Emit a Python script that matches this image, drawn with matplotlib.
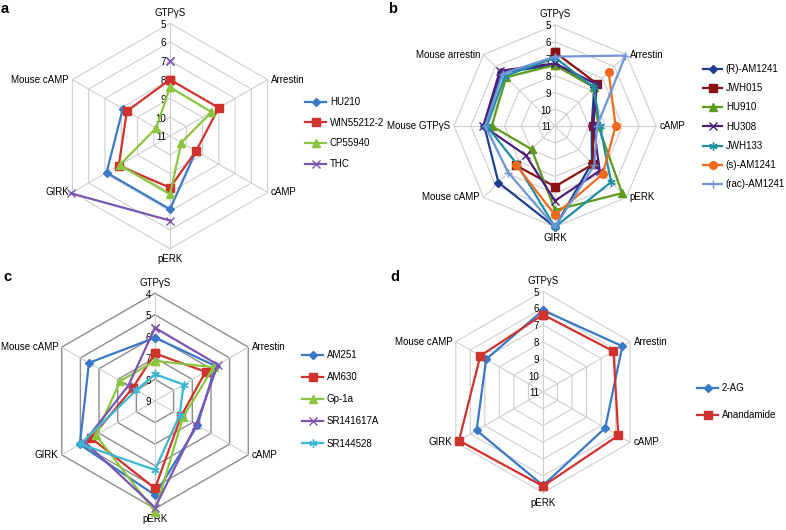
import numpy as np
import matplotlib
matplotlib.use('Agg')
import matplotlib.pyplot as plt

plt.rcParams['font.family'] = ['Liberation Sans', 'DejaVu Sans']
nan = np.nan

# ---------------- data ----------------
cats_a = ['GTPγS', 'Arrestin', 'cAMP', 'pERK', 'GIRK', 'Mouse cAMP']
a_names = ['HU210', 'WIN55212-2', 'CP55940', 'THC']
a_HU210 = [nan, nan, 9.4, 7.1, 7.1, 8.1]
a_WIN = [8.0, 8.0, 9.4, 8.25, 7.85, 8.35]
a_CP = [8.4, 8.45, 10.3, 7.9, 7.9, 10.15]
a_THC = [7.0, nan, nan, 6.5, 4.9, nan]

cats_b = ['GTPγS', 'Arrestin', 'cAMP', 'pERK', 'GIRK', 'Mouse cAMP',
          'Mouse GTPγS', 'Mouse arrestin']
b_names = ['(R)-AM1241', 'JWH015', 'HU910', 'HU308', 'JWH133',
           '(s)-AM1241', '(rac)-AM1241']
b_R = [7.38, 7.7, 8.82, 7.9, 5.0, 6.25, 6.8, 6.5]
b_JWH015 = [6.62, 7.46, 8.75, 7.8, 7.4, 7.7, nan, nan]
b_HU910 = [7.38, 7.75, 8.43, 5.36, 6.0, 9.04, 7.24, 6.9]
b_HU308 = [7.28, 7.5, 8.72, 7.24, 6.56, 8.54, 6.74, 6.37]
b_JWH133 = [6.94, 7.75, 8.33, 6.29, 5.0, 7.8, 6.94, 6.8]
b_S = [nan, 6.49, 7.4, 6.98, 5.71, 7.73, nan, nan]
b_rac = [6.88, 5.08, 8.5, 7.7, 5.0, 7.08, 6.85, 6.6]

cats_c = ['GTPγS', 'Arrestin', 'cAMP', 'pERK', 'GIRK', 'Mouse cAMP']
c_names = ['AM251', 'AM630', 'Gp-1a', 'SR141617A', 'SR144528']
c_AM251 = [6.06, 5.75, 6.73, 4.63, 4.97, 5.46]
c_AM630 = [6.79, 6.29, 7.6, 4.94, 5.57, 7.8]
c_Gp1a = [7.14, 5.86, 7.5, 3.86, 5.83, 7.14]
c_SR141617A = [5.6, 5.63, 6.8, 4.05, 5.22, 7.57]
c_SR144528 = [7.76, 7.47, 7.68, 5.8, 5.0, 8.0]

cats_d = ['GTPγS', 'Arrestin', 'cAMP', 'pERK', 'GIRK', 'Mouse cAMP']
d_names = ['2-AG', 'Anandamide']
d_2AG = [6.13, 5.54, 6.72, 5.43, 6.43, 7.09]
d_AEA = [6.39, 6.15, 5.82, 5.39, 5.22, 6.69]

# ---------------- styles ----------------
BLUE = '#3A78C8'
RED = '#D0322E'
GREEN = '#8CC63E'
PURPLE = '#7B55B0'
CYAN = '#3CB8D2'
AST = (6, 2, 0)

W, H = 786, 530
fig = plt.figure(figsize=(W / 100, H / 100), dpi=100)
FS = 7


def make_ax(cx, cy, rad):
    return fig.add_axes([(cx - rad) / W, (H - cy - rad) / H, 2 * rad / W, 2 * rad / H],
                        projection='polar')


def radar(ax, cats, rout, rcen, ring_color, ring_lw, spoke_color):
    n = len(cats)
    th = np.arange(n) * 2 * np.pi / n
    ax.set_theta_zero_location('N')
    ax.set_theta_direction(-1)
    ax.set_ylim(rcen, rout)
    ax.grid(False)
    ax.set_xticks([])
    ax.set_yticks([])
    ax.spines['polar'].set_visible(False)
    ax.patch.set_alpha(0)
    thc = np.append(th, th[0])
    for v in range(rout, rcen):
        ax.plot(thc, [v] * (n + 1), color=ring_color, lw=ring_lw, zorder=1, clip_on=False)
    for t in th:
        ax.plot([t, t], [rcen, rout], color=spoke_color, lw=0.8, zorder=1, clip_on=False)
    for v in range(rout, rcen + 1):
        ax.annotate(str(v), xy=(0, v), xytext=(-3, -1), textcoords='offset points',
                    ha='right', va='center', fontsize=FS, zorder=2)
    for t, c in zip(th, cats):
        s, co = np.sin(t), np.cos(t)
        if s > 0.1:
            ha = 'left'
        elif s < -0.1:
            ha = 'right'
        else:
            ha = 'center'
        if abs(s) > 0.1:
            va = 'center'
            off = (2.5 * np.sign(s), 0)
        else:
            va = 'bottom' if co > 0 else 'top'
            off = (0, 4 * np.sign(co))
        ax.annotate(c, xy=(t, rout), xytext=off, textcoords='offset points',
                    ha=ha, va=va, fontsize=FS, annotation_clip=False)
    return thc


def series(ax, thc, vals, color, marker, ms, label, lw=1.6, mew=1.0):
    v = np.append(vals, vals[0])
    ln, = ax.plot(thc, v, color=color, lw=lw, marker=marker, ms=ms, mew=mew,
                  label=label, clip_on=False, zorder=3)
    return ln


def legend(ax, handles, x, y, spacing, hl=2.2):
    ax.legend(handles=handles, loc='upper left', bbox_to_anchor=(x / W, 1 - y / H),
              bbox_transform=fig.transFigure, frameon=False, fontsize=FS,
              handlelength=hl, handletextpad=0.35, labelspacing=spacing,
              borderpad=0, borderaxespad=0, numpoints=1)


# ---------------- panel a ----------------
ax = make_ax(170, 136, 112.7)
thc = radar(ax, cats_a, 5, 11, '#CFCFCF', 0.8, '#CFCFCF')
h = [series(ax, thc, a_HU210, BLUE, 'D', 4.5, a_names[0]),
     series(ax, thc, a_WIN, RED, 's', 5.5, a_names[1]),
     series(ax, thc, a_CP, GREEN, '^', 5.5, a_names[2]),
     series(ax, thc, a_THC, PURPLE, 'x', 6, a_names[3])]
legend(ax, h, 305, 97, 1.1)

# ---------------- panel b ----------------
ax = make_ax(555, 126, 101)
thc = radar(ax, cats_b, 5, 11, '#CFCFCF', 0.8, '#CFCFCF')
h = [series(ax, thc, b_R, '#1F3F8F', 'D', 4.5, b_names[0]),
     series(ax, thc, b_JWH015, '#8B1212', 's', 5.5, b_names[1]),
     series(ax, thc, b_HU910, '#5E9A1E', '^', 5.5, b_names[2]),
     series(ax, thc, b_HU308, '#4B1F7A', 'x', 5.5, b_names[3]),
     series(ax, thc, b_JWH133, '#1D8FA5', AST, 6, b_names[4]),
     series(ax, thc, b_S, '#F26B1D', 'o', 5.5, b_names[5]),
     series(ax, thc, b_rac, '#6F95D6', '+', 6, b_names[6])]
legend(ax, h, 703, 64, 0.95, hl=2.0)

# ---------------- panel c ----------------
ax = make_ax(155, 401, 107.7)
thc = radar(ax, cats_c, 4, 9, '#8C8C8C', 1.0, '#CFCFCF')
h = [series(ax, thc, c_AM251, BLUE, 'D', 4.5, c_names[0]),
     series(ax, thc, c_AM630, RED, 's', 5.5, c_names[1]),
     series(ax, thc, c_Gp1a, GREEN, '^', 5.5, c_names[2]),
     series(ax, thc, c_SR141617A, PURPLE, 'x', 6, c_names[3]),
     series(ax, thc, c_SR144528, CYAN, AST, 6, c_names[4])]
legend(ax, h, 302, 350, 1.25)

# ---------------- panel d ----------------
ax = make_ax(543, 392, 100.7)
thc = radar(ax, cats_d, 5, 11, '#CFCFCF', 0.8, '#CFCFCF')
h = [series(ax, thc, d_2AG, BLUE, 'D', 4.5, d_names[0]),
     series(ax, thc, d_AEA, RED, 's', 6, d_names[1])]
legend(ax, h, 697, 383, 1.75)

# panel letters
for s, x, y in [('a', 1, 13), ('b', 388, 13), ('c', 3, 281), ('d', 390, 281)]:
    fig.text(x / W, 1 - y / H, s, fontsize=10.5, fontweight='bold', va='baseline')

fig.savefig('out.png', dpi=100)
